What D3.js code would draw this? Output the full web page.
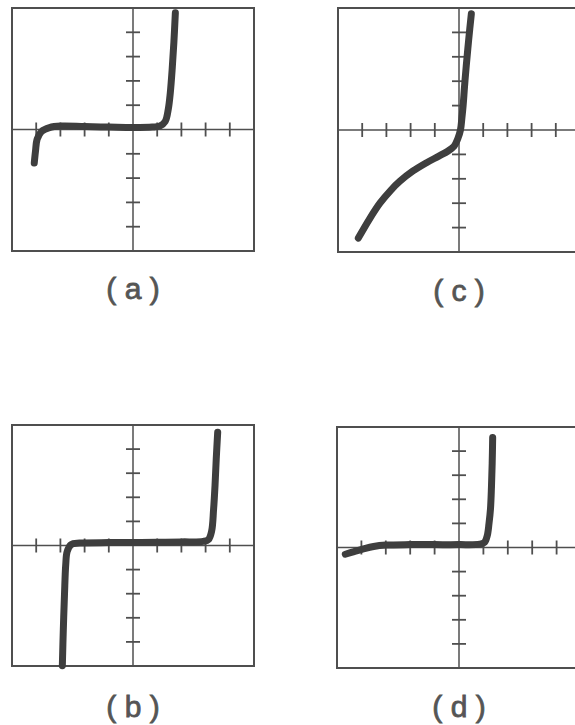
<!DOCTYPE html>
<html>
<head>
<meta charset="utf-8">
<script src="https://cdn.jsdelivr.net/npm/d3@7"></script>
<style>
  html, body { margin: 0; padding: 0; background: #fff; overflow: hidden; }
  svg { display: block; }
</style>
</head>
<body>
<script>
// Oscilloscope-style I–V traces, four panels. Units are screen divisions (10 x 10 grid).
const panelNames = ["(a)", "(c)", "(b)", "(d)"];
const divTicks = [-4, -3, -2, -1, 1, 2, 3, 4];

const curveA = [[-4.08,-1.38],[-4.03,-0.9],[-3.96,-0.4],[-3.78,-0.08],[-3.45,0.08],[-2.97,0.14],[-2,0.12],[-1,0.1],[0,0.08],[0.8,0.1],[1.12,0.15],[1.33,0.33],[1.46,0.85],[1.54,1.5],[1.62,2.5],[1.69,3.6],[1.75,4.8]];
const curveC = [[-4.16,-4.43],[-3.7,-3.65],[-3.26,-2.99],[-2.82,-2.47],[-2.44,-2.1],[-1.9,-1.68],[-1.34,-1.34],[-0.85,-1.08],[-0.45,-0.86],[-0.2,-0.66],[-0.05,-0.36],[0.06,0.0],[0.12,0.5],[0.17,1.0],[0.23,1.8],[0.3,2.63],[0.4,3.7],[0.51,4.76]];
const curveB = [[-2.92,-4.99],[-2.88,-3.5],[-2.83,-2.0],[-2.78,-0.8],[-2.72,-0.25],[-2.56,0.04],[-2.2,0.1],[-1,0.12],[0,0.12],[1,0.13],[2,0.15],[2.9,0.17],[3.12,0.25],[3.25,0.6],[3.33,1.5],[3.39,2.5],[3.44,3.6],[3.5,4.7]];
const curveD = [[-4.66,-0.28],[-4.3,-0.17],[-3.95,-0.07],[-3.5,0.04],[-2.99,0.1],[-2,0.12],[-1,0.12],[0,0.12],[0.85,0.14],[1.05,0.22],[1.16,0.5],[1.23,1.0],[1.29,1.6],[1.33,2.5],[1.36,3.5],[1.38,4.56]];

const traces = [curveA, curveC, curveB, curveD];

// screen rectangles for each panel: [left, top, right, bottom], and label baseline
const frames = [
  { box: [12, 8, 254, 251], labelY: 299 },
  { box: [338, 8, 580, 252], labelY: 301 },
  { box: [12, 425, 254, 666], labelY: 717 },
  { box: [337, 427, 581, 668], labelY: 717 }
];

const W = 575, H = 725;
const svg = d3.select("body").append("svg").attr("width", W).attr("height", H);

const ink = "#4f4f4f";
const traceInk = "#3e3e3e";

frames.forEach((f, i) => {
  const [l, t, r, b] = f.box;
  const x = d3.scaleLinear().domain([-5, 5]).range([l, r]);
  const y = d3.scaleLinear().domain([-5, 5]).range([b, t]);
  const g = svg.append("g");

  // graticule frame
  g.append("rect")
    .attr("x", x(-5)).attr("y", y(5))
    .attr("width", x(5) - x(-5)).attr("height", y(-5) - y(5))
    .attr("fill", "none").attr("stroke", ink).attr("stroke-width", 2);

  // centre axes
  g.append("line").attr("x1", x(-5)).attr("x2", x(5)).attr("y1", y(0)).attr("y2", y(0))
    .attr("stroke", ink).attr("stroke-width", 1.5);
  g.append("line").attr("x1", x(0)).attr("x2", x(0)).attr("y1", y(-5)).attr("y2", y(5))
    .attr("stroke", ink).attr("stroke-width", 1.5);

  // division marks crossing the axes
  g.selectAll(".xt").data(divTicks).join("line")
    .attr("x1", d => x(d)).attr("x2", d => x(d))
    .attr("y1", y(0) - 7).attr("y2", y(0) + 7)
    .attr("stroke", ink).attr("stroke-width", 1.8);
  g.selectAll(".yt").data(divTicks).join("line")
    .attr("x1", x(0) - 7).attr("x2", x(0) + 7)
    .attr("y1", d => y(d)).attr("y2", d => y(d))
    .attr("stroke", ink).attr("stroke-width", 1.8);

  // trace
  const line = d3.line().x(d => x(d[0])).y(d => y(d[1])).curve(d3.curveCatmullRom.alpha(0.5));
  g.append("path").datum(traces[i]).attr("d", line)
    .attr("fill", "none").attr("stroke", traceInk).attr("stroke-width", 7)
    .attr("stroke-linecap", "round").attr("stroke-linejoin", "round");

  // panel caption
  const name = panelNames[i];
  svg.append("text")
    .attr("x", x(0)).attr("y", f.labelY)
    .attr("text-anchor", "middle")
    .attr("font-family", "'Liberation Sans', Arial, sans-serif")
    .attr("font-size", 30)
    .attr("fill", "#555")
    .attr("stroke", "#555")
    .attr("stroke-width", 0.8)
    .text(name[0] + " " + name[1] + " " + name[2]);
});
</script>
</body>
</html>
